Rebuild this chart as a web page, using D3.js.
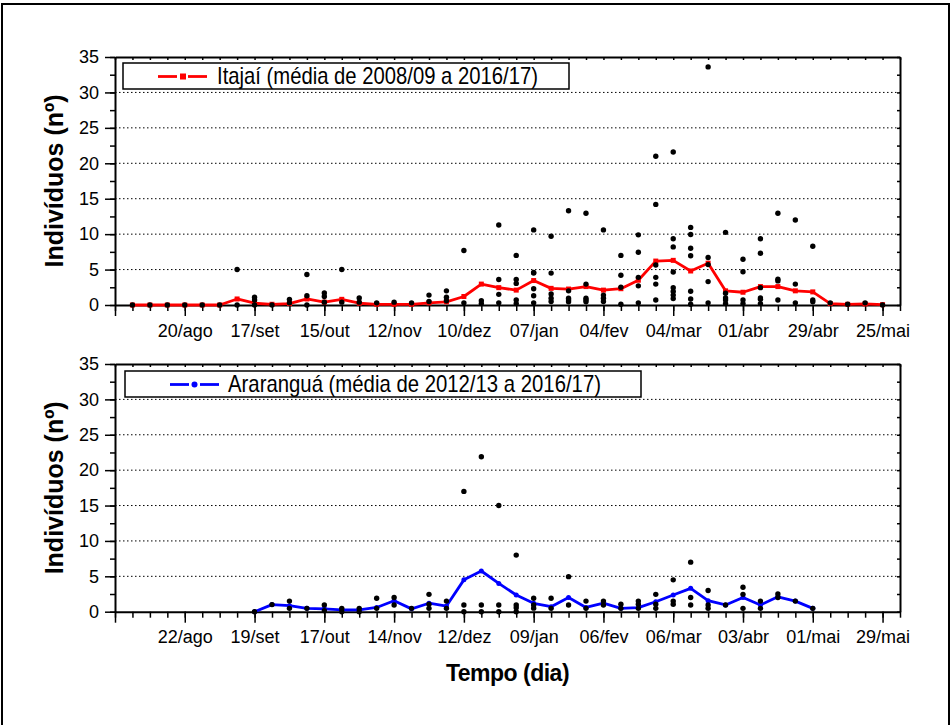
<!DOCTYPE html>
<html>
<head>
<meta charset="utf-8">
<script src="https://cdn.jsdelivr.net/npm/d3@7"></script>
<style>
  body { margin: 0; background: #fff; }
  svg { display: block; font-family: "Liberation Sans", Arial, sans-serif; }
</style>
</head>
<body>
<div id="chart"></div>
<script>
var svgWidth = 951;
var svgHeight = 725;

// Itajaí: weekly mean (red line) and individual season values (black dots)
var itajaiWeeks = d3.range(1, 45);
var itajaiMean = [0, 0, 0, 0, 0, 0, 0.85, 0.25, 0.1, 0.2,
  0.85, 0.4, 0.8, 0.25, 0.1, 0.1, 0.1, 0.3, 0.45, 1.2,
  2.95, 2.45, 2.1, 3.45, 2.35, 2.25, 2.6, 2.1, 2.3, 3.5,
  6.2, 6.3, 4.8, 5.9, 2.0, 1.8, 2.6, 2.6, 2.0, 1.85,
  0.2, 0.1, 0.15, 0.05];
var itajaiObs = [[0], [0], [0], [0], [0], [0], [5.0, 0], [1.1, 0.7, 0], [0], [0.8, 0.3],
  [4.3, 1.3, 0], [1.7, 1.2, 0.4], [5.0, 0.4], [1.0, 0.4], [0.3], [0.4], [0.3], [1.4, 0.5], [2.0, 1.1, 0.6], [7.7, 0.3],
  [0.6, 0.2], [11.3, 3.6, 1.5, 0.3], [7.0, 3.6, 3.05, 0.7, 0.2], [10.6, 4.6, 4.5, 2.3, 1.3, 0.3], [9.7, 4.5, 1.55, 0.95, 0.5],
  [13.3, 2.0, 0.95, 0.7, 0.45], [12.95, 2.95, 0.95, 0.7, 0.45], [10.6, 1.4, 0.95, 0.5], [7.0, 4.2, 2.5, 0.1], [9.9, 7.45, 3.9, 2.7, 0.3],
  [21.0, 14.2, 5.65, 3.9, 2.95, 0.7], [21.6, 9.35, 8.2, 4.65, 2.45, 1.9, 1.4, 0.9], [10.95, 9.95, 8.0, 6.95, 1.95, 0.85, 0.1],
  [33.6, 6.7, 5.7, 3.3, 0.3], [10.25, 1.65, 1.0, 0.7, 0.2], [6.45, 4.7, 0.7, 0.2], [9.35, 7.3, 2.45, 1.0, 0.8, 0.2],
  [12.95, 3.65, 3.4, 0.7], [12.0, 2.95, 0.3], [8.3, 0.7, 0.45], [0.3], [0.1], [0.3], [0]];

// Araranguá: weekly mean (blue line) and individual season values
var ararWeeks = d3.range(8, 41);
var ararMean = [0, 1.0, 0.85, 0.47, 0.4, 0.25, 0.25, 0.6, 1.55, 0.4,
  1.2, 0.8, 4.5, 5.75, 4.0, 2.36, 1.18, 0.7, 2.0, 0.6,
  1.2, 0.47, 0.57, 1.4, 2.36, 3.3, 1.55, 0.95, 2.0, 0.95,
  2.1, 1.5, 0.47];
var ararObs = [[0], [1.0], [1.5, 0.47], [0.47], [0.95, 0.15], [0.47, 0], [0.47, 0], [1.9, 0.47], [2.0, 0.95], [0.47],
  [2.45, 1.05, 0.47], [1.5, 0.47], [17.0, 0.95, 0], [21.9, 0.95, 0], [15.0, 0.95, 0], [8.0, 0.95, 0.57, 0],
  [1.9, 0.95, 0.5], [1.9, 0.47], [4.95, 0.95], [1.5, 0.47], [1.5, 0.95], [1.05, 0.47], [1.5, 1.05, 0.47],
  [2.45, 1.05, 0.47], [4.5, 1.5, 1.05], [7.0, 2.0, 0.95], [3.0, 0.95, 0.47], [0.95], [3.45, 2.45, 0.47],
  [1.5, 0.47], [2.5, 2.0], [1.5], [0.47]];

var itajaiTickLabels = ["", "20/ago", "17/set", "15/out", "12/nov", "10/dez", "07/jan", "04/fev", "04/mar", "01/abr", "29/abr", "25/mai"];
var ararTickLabels = ["", "22/ago", "19/set", "17/out", "14/nov", "12/dez", "09/jan", "06/fev", "06/mar", "03/abr", "01/mai", "29/mai"];
var yMajor = [0, 5, 10, 15, 20, 25, 30, 35];
var yGrid = [5, 10, 15, 20, 25, 30];

var svg = d3.select("#chart")
  .append("svg")
  .attr("width", svgWidth)
  .attr("height", svgHeight);

// outer frame
svg.append("rect")
  .attr("x", 2)
  .attr("y", 4)
  .attr("width", 947)
  .attr("height", 740)
  .attr("fill", "none")
  .attr("stroke", "#000")
  .attr("stroke-width", 2);

var plotLeft = 115;
var plotRight = 900;

var xScale = d3.scaleLinear()
  .domain([0, 45])
  .range([plotLeft, plotRight]);

function drawPanel(p) {
  var yScale = d3.scaleLinear()
    .domain([0, 35])
    .range([p.bottom, p.top]);

  var g = svg.append("g");

  // dotted grid
  g.selectAll(".grid")
    .data(yGrid)
    .enter()
    .append("line")
    .attr("x1", plotLeft)
    .attr("x2", plotRight)
    .attr("y1", d => yScale(d))
    .attr("y2", d => yScale(d))
    .attr("stroke", "#000")
    .attr("stroke-width", 1)
    .attr("stroke-dasharray", "1.5,2.5");

  // bottom axis: weekly minor ticks, labels every 4 weeks
  var majorWeeks = d3.range(0, 45, 4);
  g.append("g")
    .attr("transform", `translate(0, ${p.bottom})`)
    .call(d3.axisBottom(xScale).tickValues(d3.range(0, 46)).tickSize(6).tickFormat(""))
    .call(a => a.select(".domain").remove());
  g.append("g")
    .attr("transform", `translate(0, ${p.bottom})`)
    .call(d3.axisBottom(xScale).tickValues(majorWeeks).tickSize(11).tickSizeOuter(0).tickPadding(8)
      .tickFormat((d, i) => p.tickLabels[i]));

  // top axis (mirror, ticks inside)
  g.append("g")
    .attr("transform", `translate(0, ${p.top})`)
    .call(d3.axisBottom(xScale).tickValues(d3.range(0, 46)).tickSize(3).tickSizeOuter(0).tickFormat(""));

  // left axis
  g.append("g")
    .attr("transform", `translate(${plotLeft}, 0)`)
    .call(d3.axisLeft(yScale).tickValues(d3.range(0, 35.1, 2.5)).tickSize(5).tickFormat(""))
    .call(a => a.select(".domain").remove());
  g.append("g")
    .attr("transform", `translate(${plotLeft}, 0)`)
    .call(d3.axisLeft(yScale).tickValues(yMajor).tickSize(10).tickSizeOuter(0).tickPadding(6));

  // right axis (mirror, ticks inside)
  g.append("g")
    .attr("transform", `translate(${plotRight}, 0)`)
    .call(d3.axisLeft(yScale).tickValues(d3.range(0, 35.1, 2.5)).tickSize(3).tickSizeOuter(0).tickFormat(""));

  g.selectAll(".domain")
    .attr("stroke-width", 2);
  g.selectAll(".tick line")
    .attr("stroke-width", 1.5);
  g.selectAll(".tick text")
    .attr("font-size", "18px")
    .attr("font-family", "Liberation Sans, Arial, sans-serif")
    .attr("fill", "#000");

  // y title
  g.append("text")
    .attr("transform", `translate(63, ${(p.top + p.bottom) / 2}) rotate(-90)`)
    .attr("text-anchor", "middle")
    .attr("font-size", "25px")
    .attr("font-weight", "bold")
    .text("Indivíduos (nº)");

  // mean line
  var line = d3.line()
    .x((d, i) => xScale(p.weeks[i]))
    .y(d => yScale(d));

  g.append("path")
    .datum(p.mean)
    .attr("d", line)
    .attr("fill", "none")
    .attr("stroke", p.color)
    .attr("stroke-width", 2.8)
    .attr("stroke-linejoin", "round");

  if (p.marker === "square") {
    g.selectAll(".mk")
      .data(p.mean)
      .enter()
      .append("rect")
      .attr("x", (d, i) => xScale(p.weeks[i]) - 2.5)
      .attr("y", d => yScale(d) - 2.5)
      .attr("width", 5)
      .attr("height", 5)
      .attr("fill", p.color);
  } else {
    g.selectAll(".mk")
      .data(p.mean)
      .enter()
      .append("circle")
      .attr("cx", (d, i) => xScale(p.weeks[i]))
      .attr("cy", d => yScale(d))
      .attr("r", 2.5)
      .attr("fill", p.color);
  }

  // individual observations
  var pts = [];
  p.obs.forEach(function (vals, i) {
    vals.forEach(function (v) {
      pts.push({ week: p.weeks[i], value: v });
    });
  });
  g.selectAll(".obs")
    .data(pts)
    .enter()
    .append("circle")
    .attr("cx", d => xScale(d.week))
    .attr("cy", d => yScale(d.value))
    .attr("r", 2.7)
    .attr("fill", "#000");

  // legend
  var lg = g.append("g")
    .attr("transform", `translate(${p.legend.x}, ${p.top + p.legend.y})`);
  lg.append("rect")
    .attr("width", p.legend.w)
    .attr("height", 26)
    .attr("fill", "#fff")
    .attr("stroke", "#000")
    .attr("stroke-width", 1.5);
  var ly = 13.5;
  lg.append("line")
    .attr("x1", p.legend.lineX).attr("x2", p.legend.lineX + 19)
    .attr("y1", ly).attr("y2", ly)
    .attr("stroke", p.color).attr("stroke-width", 2.8);
  lg.append("line")
    .attr("x1", p.legend.lineX + 30).attr("x2", p.legend.lineX + 49)
    .attr("y1", ly).attr("y2", ly)
    .attr("stroke", p.color).attr("stroke-width", 2.8);
  if (p.marker === "square") {
    lg.append("rect")
      .attr("x", p.legend.lineX + 22).attr("y", ly - 3)
      .attr("width", 6).attr("height", 6)
      .attr("fill", p.color);
  } else {
    lg.append("circle")
      .attr("cx", p.legend.lineX + 24.5).attr("cy", ly)
      .attr("r", 3)
      .attr("fill", p.color);
  }
  lg.append("text")
    .attr("x", p.legend.textX)
    .attr("y", 21)
    .attr("font-size", "24px")
    .attr("textLength", p.legend.textW)
    .attr("lengthAdjust", "spacingAndGlyphs")
    .text(p.legendText);
}

drawPanel({
  top: 57, bottom: 305,
  weeks: itajaiWeeks, mean: itajaiMean, obs: itajaiObs,
  tickLabels: itajaiTickLabels,
  color: "#ff0000", marker: "square",
  legendText: "Itajaí (média de 2008/09 a 2016/17)",
  legend: { x: 123, y: 6, w: 446, lineX: 35, textX: 94, textW: 321 }
});

drawPanel({
  top: 364, bottom: 611.7,
  weeks: ararWeeks, mean: ararMean, obs: ararObs,
  tickLabels: ararTickLabels,
  color: "#0000ff", marker: "circle",
  legendText: "Araranguá (média de 2012/13 a 2016/17)",
  legend: { x: 125, y: 7, w: 516, lineX: 45, textX: 103, textW: 373 }
});

// x title
svg.append("text")
  .attr("x", (plotLeft + plotRight) / 2)
  .attr("y", 681)
  .attr("text-anchor", "middle")
  .attr("font-size", "23px")
  .attr("font-weight", "bold")
  .attr("letter-spacing", "-0.5px")
  .text("Tempo (dia)");
</script>
</body>
</html>
